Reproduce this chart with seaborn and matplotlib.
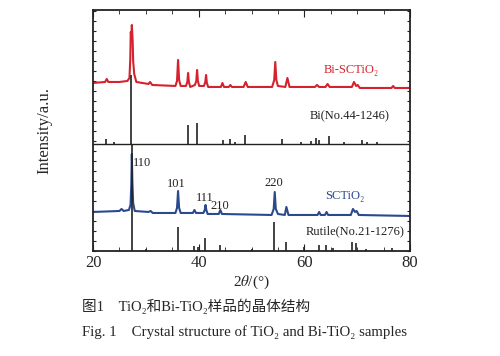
import seaborn as sns
import matplotlib.pyplot as plt
from matplotlib.ticker import MultipleLocator, NullFormatter

# 2θ / intensity (arbitrary units)
bi_sctio2_x = [20, 22.3, 22.6, 22.9, 25, 26.5, 26.9, 27.05, 27.15, 27.25, 27.35, 27.5, 27.6, 27.8, 28.2,
               30.5, 30.8, 31.2, 35.6, 35.9, 36.1, 36.3, 36.6, 37.6, 37.85, 38.0, 38.15, 38.4, 39.3, 39.55,
               39.7, 39.85, 40.1, 41.0, 41.25, 41.4, 41.55, 41.8, 44.2, 44.5, 44.8, 45.7, 46.0, 46.3,
               48.5, 48.9, 49.3, 53.9, 54.3, 54.5, 54.7, 55.0, 56.4, 56.8, 57.2, 62.0, 62.4, 62.8,
               64.0, 64.4, 64.8, 69.0, 69.4, 69.8, 70.1, 70.5, 76.5, 76.8, 77.1, 80]
bi_sctio2_y = [168, 169, 172, 169, 169, 170, 173, 191, 219, 214, 226, 211, 190, 177, 169,
               167, 169, 166, 165, 170, 191, 171, 165, 165, 169, 178, 169, 164, 166, 170,
               181, 170, 165, 165, 169, 176, 168, 164, 164, 168, 164, 164, 166, 164,
               164, 169, 164, 164, 171, 189, 171, 165, 164, 173, 164, 164, 166, 164,
               164, 167, 164, 164, 169, 165, 166, 163, 163, 165, 163, 163]

sctio2_x = [20, 25.0, 25.4, 25.8, 26.8, 27.1, 27.25, 27.35, 27.45, 27.6, 27.9, 30.5, 30.9, 31.3,
            35.6, 35.9, 36.1, 36.3, 36.6, 38.9, 39.2, 39.5, 40.9, 41.15, 41.3, 41.45, 41.7,
            43.8, 44.1, 44.4, 53.8, 54.2, 54.4, 54.6, 55.0, 56.3, 56.6, 57.0, 62.5, 62.8, 63.1,
            63.9, 64.2, 64.5, 68.8, 69.2, 69.6, 69.9, 70.3, 80]
sctio2_y = [39, 40, 42, 40, 41, 46, 66, 97, 70, 48, 40, 39, 40, 38,
            38, 43, 60, 43, 38, 38, 41, 38, 38, 41, 46, 41, 37,
            37, 41, 37, 36, 42, 59, 42, 37, 36, 44, 36, 36, 39, 36,
            36, 39, 36, 36, 42, 39, 40, 36, 35]

# standard cards: position, stick top (bottom of sticks at the panel baseline)
bi_card_pos = [22.5, 23.9, 27.2, 38.0, 39.7, 44.6, 46.0, 46.8, 48.7, 55.7, 59.4, 61.2, 62.3,
               62.8, 64.7, 67.5, 71.0, 71.8, 73.7]
bi_card_top = [112, 109, 176, 126, 128, 111, 112, 109, 116, 112, 109, 110, 113,
               111, 115, 109, 111, 109, 109]
bi_card_base = 107

rutile_pos = [27.45, 30.1, 36.1, 39.2, 39.9, 41.2, 44.1, 50.1, 54.3, 56.6, 59.9, 62.7, 64.1,
              65.5, 69.0, 69.8, 71.6, 76.6]
rutile_top = [107, 2, 24, 5, 4, 13, 6, 2, 29, 9, 4, 6, 6, 3, 9, 8, 2, 3]
rutile_base = 0

hkl_labels = ["110", "101", "111", "210", "220"]
hkl_x = [27.6, 35.8, 41.2, 44.0, 54.3]
hkl_y = [88, 67, 53, 45, 68]

sns.set_style("ticks")
plt.rcParams["font.family"] = ["Liberation Serif", "Noto Sans CJK SC", "DejaVu Serif"]
plt.rcParams["mathtext.fontset"] = "stix"

fig = plt.figure(figsize=(5, 3.56), dpi=100, facecolor="white")
ax = fig.add_axes([0.186, 0.295, 0.634, 0.677])

red = "#d4232e"
blue = "#2b4a8e"

sns.lineplot(x=bi_sctio2_x, y=bi_sctio2_y, estimator=None, sort=False, color=red, lw=1.5, ax=ax)
sns.lineplot(x=sctio2_x, y=sctio2_y, estimator=None, sort=False, color=blue, lw=1.5, ax=ax)

ax.vlines(bi_card_pos, bi_card_base, bi_card_top, color="#222222", lw=1.2)
ax.vlines(rutile_pos, rutile_base, rutile_top, color="#222222", lw=1.2)
ax.axhline(bi_card_base, color="#222222", lw=1.0)

ax.text(68.8, 181, "Bi-SCTiO₂", color=red, fontsize=9, ha="center", va="center")
ax.text(68.6, 135, "Bi(No.44-1246)", color="#222222", fontsize=9, ha="center", va="center")
ax.text(67.7, 55, "SCTiO₂", color=blue, fontsize=9, ha="center", va="center")
ax.text(69.6, 20, "Rutile(No.21-1276)", color="#222222", fontsize=9, ha="center", va="center")
for lab, x, y in zip(hkl_labels, hkl_x, hkl_y):
    ha = "left" if lab == "110" else "center"
    ax.text(x, y, lab, fontsize=9, ha=ha, va="center", color="#222222")

ax.set_xlim(20, 80)
ax.set_ylim(0, 241)
ax.xaxis.set_major_locator(MultipleLocator(20))
ax.xaxis.set_minor_locator(MultipleLocator(5))
ax.yaxis.set_major_locator(MultipleLocator(10))
ax.yaxis.set_major_formatter(NullFormatter())
ax.tick_params(axis="both", which="both", direction="in", top=True, right=True, color="#222222")
ax.tick_params(axis="x", which="major", length=5, labelsize=12, pad=3)
ax.tick_params(axis="x", which="minor", length=3)
ax.tick_params(axis="y", which="major", length=2.5)
for s in ax.spines.values():
    s.set_linewidth(1.3)
    s.set_color("#222222")

ax.set_xlabel(r"2$\theta$/(°)", fontsize=11, labelpad=2)
ax.set_ylabel("Intensity/a.u.", fontsize=12, labelpad=26)

fig.text(0.164, 0.14, "图1　TiO₂和Bi-TiO₂样品的晶体结构", fontsize=10.5, ha="left", va="center")
fig.text(0.164, 0.067, "Fig. 1　Crystal structure of TiO₂ and Bi-TiO₂ samples", fontsize=10.7,
         ha="left", va="center")

plt.savefig("out.png", dpi=100, facecolor="white")
plt.close(fig)
